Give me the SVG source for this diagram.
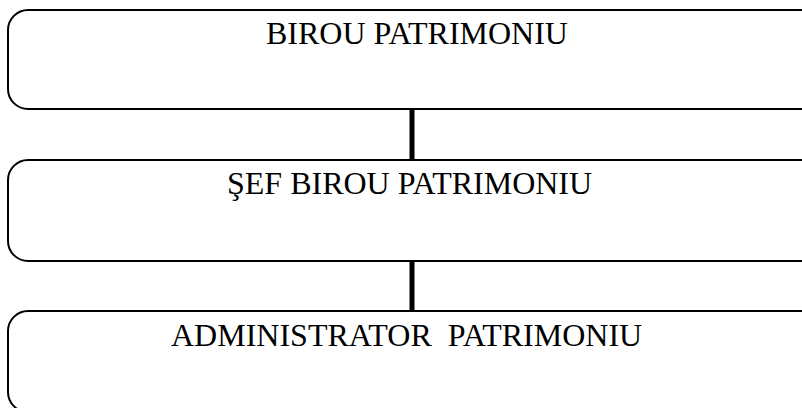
<svg xmlns="http://www.w3.org/2000/svg" width="802" height="408" viewBox="0 0 802 408">
<style>
.box{fill:#fff;stroke:#000;stroke-width:2}
.lbl{font-family:"Liberation Serif","Times New Roman",serif;font-size:32px;fill:#000}
.conn{stroke:#000;stroke-width:5}
</style>
<rect width="802" height="408" fill="#fff"/>
<g id="connectors">
<line class="conn" x1="412" y1="109" x2="412" y2="160"/>
<line class="conn" x1="412" y1="261" x2="412" y2="311"/>
</g>
<g id="birou">
<rect class="box" x="8" y="10" width="830" height="99" rx="20" ry="20"/>
<text class="lbl" x="266" y="44">BIROU PATRIMONIU</text>
</g>
<g id="sef">
<rect class="box" x="8" y="160" width="830" height="101" rx="20" ry="20"/>
<text class="lbl" x="227" y="194">ŞEF BIROU PATRIMONIU</text>
</g>
<g id="administrator">
<rect class="box" x="8" y="311" width="830" height="101" rx="20" ry="20"/>
<text class="lbl" x="171" y="346" xml:space="preserve">ADMINISTRATOR  PATRIMONIU</text>
</g>
</svg>
